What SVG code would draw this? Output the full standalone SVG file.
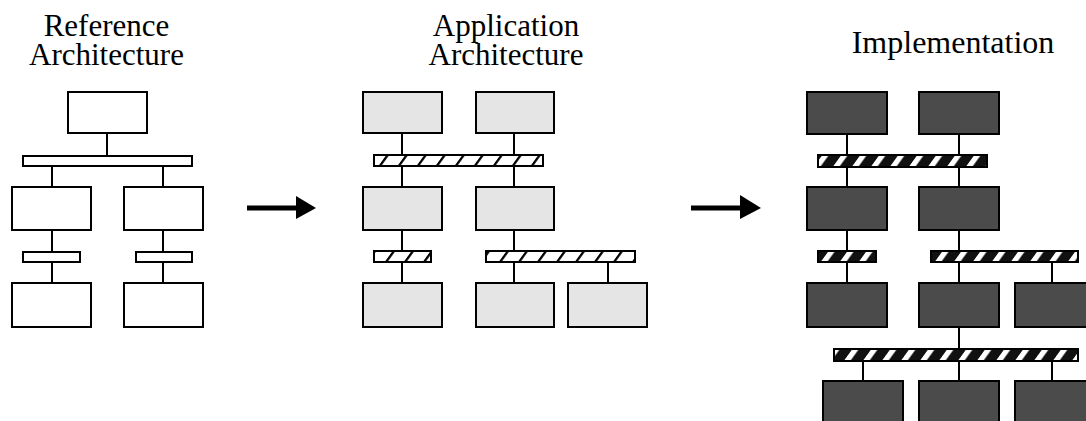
<svg xmlns="http://www.w3.org/2000/svg" width="1086" height="421" viewBox="0 0 1086 421">
<defs>
<style>
.t{font-family:"Liberation Serif","Times New Roman",serif;font-size:31px;fill:#000;text-anchor:middle}
.wb{fill:#fff;stroke:#000;stroke-width:2}
.lb{fill:#e5e5e5;stroke:#000;stroke-width:2}
.db{fill:#4b4b4b;stroke:#000;stroke-width:2}
.hb{fill:url(#hatchL);stroke:#000;stroke-width:2}
.kb{fill:url(#hatchD);stroke:#000;stroke-width:2}
.c{stroke:#000;stroke-width:2;fill:none}
</style>
<pattern id="hatchL" patternUnits="userSpaceOnUse" width="19" height="19" patternTransform="skewX(-36)">
<rect width="19" height="19" fill="#fff"/>
<rect x="5" width="2.8" height="19" fill="#000"/>
</pattern>
<pattern id="hatchD" patternUnits="userSpaceOnUse" width="19" height="19" patternTransform="skewX(-36)">
<rect width="19" height="19" fill="#111"/>
<rect x="4" width="6.5" height="19" fill="#fff"/>
</pattern>
</defs>
<rect width="1086" height="421" fill="#fff"/>

<g id="titles">
<text class="t" x="106.5" y="36">Reference<tspan x="106.5" dy="29">Architecture</tspan></text>
<text class="t" x="506" y="36">Application<tspan x="506" dy="29">Architecture</tspan></text>
<text class="t" x="953" y="53" style="font-size:32px">Implementation</text>
</g>

<g id="connectors">
<!-- reference -->
<line class="c" x1="107" y1="133" x2="107" y2="156"/>
<line class="c" x1="52" y1="166" x2="52" y2="187"/>
<line class="c" x1="52" y1="230" x2="52" y2="252"/>
<line class="c" x1="52" y1="262" x2="52" y2="283"/>
<line class="c" x1="163" y1="166" x2="163" y2="187"/>
<line class="c" x1="163" y1="230" x2="163" y2="252"/>
<line class="c" x1="163" y1="262" x2="163" y2="283"/>
<!-- application -->
<line class="c" x1="402" y1="133" x2="402" y2="187"/>
<line class="c" x1="402" y1="230" x2="402" y2="283"/>
<line class="c" x1="514" y1="133" x2="514" y2="187"/>
<line class="c" x1="514" y1="230" x2="514" y2="283"/>
<line class="c" x1="608" y1="262" x2="608" y2="283"/>
<!-- implementation -->
<line class="c" x1="847" y1="134" x2="847" y2="187"/>
<line class="c" x1="847" y1="230" x2="847" y2="283"/>
<line class="c" x1="959" y1="134" x2="959" y2="187"/>
<line class="c" x1="959" y1="230" x2="959" y2="283"/>
<line class="c" x1="959" y1="327" x2="959" y2="381"/>
<line class="c" x1="1052" y1="262" x2="1052" y2="283"/>
<line class="c" x1="863" y1="361" x2="863" y2="381"/>
<line class="c" x1="1052" y1="361" x2="1052" y2="381"/>
<!-- arrows -->
<line x1="247" y1="208" x2="297" y2="208" stroke="#000" stroke-width="5"/>
<polygon points="296,196 316,208 296,219" fill="#000"/>
<line x1="691" y1="208" x2="741" y2="208" stroke="#000" stroke-width="5"/>
<polygon points="740,195 761,208 740,219" fill="#000"/>
</g>

<g id="reference">
<rect id="ref-top" class="wb" x="68" y="92" width="79" height="41"/>
<rect id="ref-bus" class="wb" x="23" y="156" width="169" height="10"/>
<rect id="ref-mid-l" class="wb" x="12" y="187" width="79" height="43"/>
<rect id="ref-mid-r" class="wb" x="124" y="187" width="79" height="43"/>
<rect id="ref-bus-l" class="wb" x="23" y="252" width="57" height="10"/>
<rect id="ref-bus-r" class="wb" x="136" y="252" width="56" height="10"/>
<rect id="ref-bot-l" class="wb" x="12" y="283" width="79" height="44"/>
<rect id="ref-bot-r" class="wb" x="124" y="283" width="79" height="44"/>
</g>

<g id="application">
<rect id="app-top-l" class="lb" x="363" y="92" width="79" height="41"/>
<rect id="app-top-r" class="lb" x="476" y="92" width="78" height="41"/>
<rect id="app-bus" class="hb" x="374" y="155" width="169" height="11"/>
<rect id="app-mid-l" class="lb" x="363" y="187" width="79" height="43"/>
<rect id="app-mid-r" class="lb" x="476" y="187" width="78" height="43"/>
<rect id="app-bus-l" class="hb" x="374" y="251" width="57" height="11"/>
<rect id="app-bus-r" class="hb" x="486" y="251" width="149" height="11"/>
<rect id="app-bot-l" class="lb" x="363" y="283" width="79" height="44"/>
<rect id="app-bot-m" class="lb" x="476" y="283" width="78" height="44"/>
<rect id="app-bot-r" class="lb" x="568" y="283" width="79" height="44"/>
</g>

<g id="implementation">
<rect id="imp-top-l" class="db" x="807" y="92" width="80" height="42"/>
<rect id="imp-top-r" class="db" x="919" y="92" width="80" height="42"/>
<rect id="imp-bus" class="kb" x="818" y="155" width="169" height="12"/>
<rect id="imp-mid-l" class="db" x="807" y="187" width="80" height="43"/>
<rect id="imp-mid-r" class="db" x="919" y="187" width="80" height="43"/>
<rect id="imp-bus-l" class="kb" x="818" y="251" width="58" height="11"/>
<rect id="imp-bus-r" class="kb" x="931" y="251" width="147" height="11"/>
<rect id="imp-r3-l" class="db" x="807" y="283" width="80" height="44"/>
<rect id="imp-r3-m" class="db" x="919" y="283" width="80" height="44"/>
<rect id="imp-r3-r" class="db" x="1015" y="283" width="80" height="44"/>
<rect id="imp-bus-low" class="kb" x="834" y="349" width="244" height="12"/>
<rect id="imp-bot-l" class="db" x="823" y="381" width="80" height="45"/>
<rect id="imp-bot-m" class="db" x="919" y="381" width="80" height="45"/>
<rect id="imp-bot-r" class="db" x="1015" y="381" width="80" height="45"/>
</g>
</svg>
